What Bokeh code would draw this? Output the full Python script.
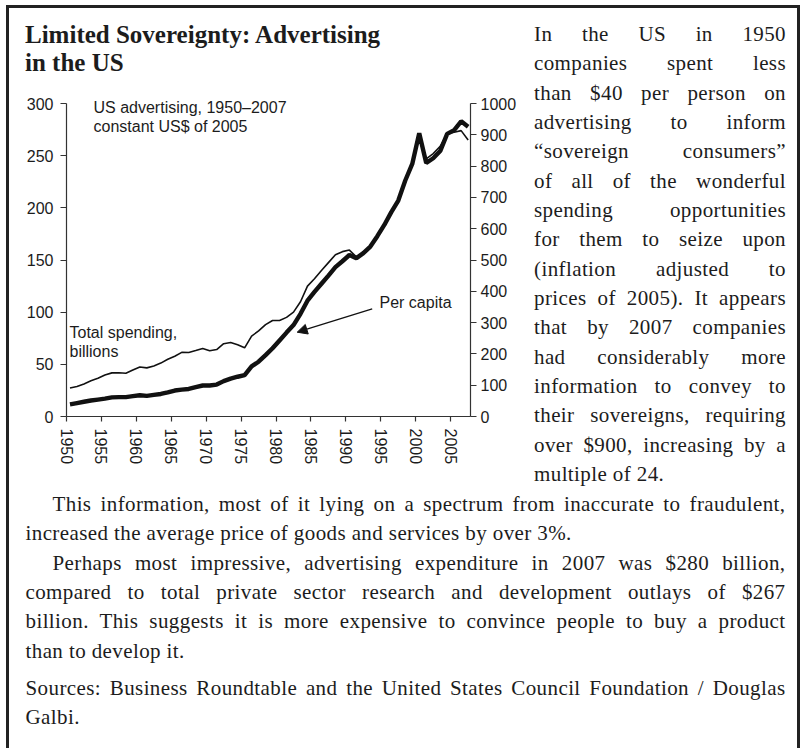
import math
from bokeh.plotting import figure
from bokeh.models import (LinearAxis, Range1d, FixedTicker, Label, Arrow,
                          NormalHead, Div, ColumnDataSource)
from bokeh.layouts import row, column
from bokeh.embed import file_html
from bokeh.resources import INLINE

# ---------------- data ----------------
years = list(range(1950, 2008))
total_billions = [27.3, 28.7, 31.2, 34.2, 36.6, 39.8, 41.8, 41.9, 41.4, 44.5,
                  47.5, 46.6, 48.4, 51.2, 54.8, 57.8, 61.5, 61.4, 63.2, 65.2,
                  63.0, 64.2, 69.8, 71.0, 68.8, 65.8, 77.0, 82.0, 88.0, 92.0,
                  92.0, 95.0, 100.0, 110.0, 125.0, 132.0, 140.0, 147.5, 155.0, 158.0,
                  159.5, 153.0, 157.0, 163.0, 172.5, 183.0, 195.0, 207.0, 226.0, 243.0,
                  270.0, 247.0, 252.0, 259.0, 271.0, 272.5, 274.0, 265.0]
per_capita = [39, 43, 47, 51, 54, 57, 61, 62, 62, 65,
              68, 66, 69, 72, 77, 83, 86, 88, 94, 99,
              99, 102, 113, 121, 127, 132, 160, 175, 196, 218,
              243, 268, 292, 328, 370, 398, 424, 450, 477, 496,
              516, 506, 522, 543, 576, 612, 653, 690, 754, 807,
              905, 810, 825, 848, 903, 915, 943, 926]
x_ticks = [1950, 1955, 1960, 1965, 1970, 1975, 1980, 1985, 1990, 1995, 2000, 2005]
left_ticks = [0, 50, 100, 150, 200, 250, 300]
right_ticks = [0, 100, 200, 300, 400, 500, 600, 700, 800, 900, 1000]

title_lines = ["Limited Sovereignty: Advertising", "in the US"]
note_lines = ["US advertising, 1950\u20132007", "constant US$ of 2005"]
total_label = ["Total spending,", "billions"]
pc_label = "Per capita"

right_lines = ["In the US in 1950", "companies spent less", "than $40 per person on",
               "advertising to inform", "\u201csovereign consumers\u201d",
               "of all of the wonderful", "spending opportunities",
               "for them to seize upon", "(inflation adjusted to",
               "prices of 2005). It appears", "that by 2007 companies",
               "had considerably more", "information to convey to",
               "their sovereigns, requiring", "over $900, increasing by a",
               "multiple of 24."]
para1 = ["This information, most of it lying on a spectrum from inaccurate to fraudulent,",
         "increased the average price of goods and services by over 3%."]
para2 = ["Perhaps most impressive, advertising expenditure in 2007 was $280 billion,",
         "compared to total private sector research and development outlays of $267",
         "billion. This suggests it is more expensive to convince people to buy a product",
         "than to develop it."]
para3 = ["Sources: Business Roundtable and the United States Council Foundation / Douglas",
         "Galbi."]

INK = "#1c1c1c"
SANS = "Liberation Sans"
SERIF = "Liberation Serif"

# ---------------- geometry (page px) ----------------
OX, OY = 9, 8              # content origin inside the bordered box
CONTENT_W = 788
TITLE_H = 70
FIG_W, FIG_H = 522, 400
RIGHT_W, RIGHT_H = 264, 482
BOTTOM_H = 258
FR_L, FR_R, FR_B = 66, 470, 416   # frame left/right/bottom on the page
Y300 = 103                        # page y of the 300 / 1000 ticks
FR_T = 90                         # frame top (a little above 300 so notes are not clipped)
fig_top = OY + TITLE_H

X0, X1 = 1950, 2007.84
YMAX = 300.0 * (FR_B - FR_T) / (FR_B - Y300)

p = figure(width=FIG_W, height=FIG_H, x_range=Range1d(X0, X1), y_range=Range1d(0, YMAX),
           output_backend="svg", toolbar_location=None, margin=0,
           min_border_left=FR_L - OX, min_border_right=OX + FIG_W - FR_R,
           min_border_top=FR_T - fig_top, min_border_bottom=fig_top + FIG_H - FR_B,
           outline_line_color=None, background_fill_color="white", border_fill_color="white")
p.grid.visible = False
p.extra_y_ranges = {"pc": Range1d(0, YMAX * 1000.0 / 300.0)}

def style_axis(ax, tick_out, standoff):
    ax.axis_line_color = "#333333"
    ax.axis_line_width = 1.2
    ax.major_tick_line_color = "#333333"
    ax.major_tick_line_width = 1.2
    ax.major_tick_out = tick_out
    ax.major_tick_in = 0
    ax.minor_tick_line_color = None
    ax.major_label_standoff = standoff
    ax.major_label_text_font = SANS
    ax.major_label_text_font_size = "16px"
    ax.major_label_text_color = INK

xa = p.xaxis[0]
xa.ticker = FixedTicker(ticks=x_ticks)
xa.major_label_orientation = -math.pi / 2
style_axis(xa, 5, 7)

ya = p.yaxis[0]
ya.ticker = FixedTicker(ticks=left_ticks)
ya.bounds = (0, 300)
style_axis(ya, 6, 7)

ra = LinearAxis(y_range_name="pc", ticker=FixedTicker(ticks=right_ticks), bounds=(0, 1000))
style_axis(ra, 6, 4)
p.add_layout(ra, "right")

src = ColumnDataSource(dict(x=[y + 0.5 for y in years], total=total_billions, pc=per_capita))
p.line("x", "total", source=src, line_color="#111111", line_width=1.6)
p.line("x", "pc", source=src, line_color="#111111", line_width=4.4, y_range_name="pc")

# pixel -> data helpers for annotation placement
def dx(px):
    return X0 + (px - FR_L) * (X1 - X0) / (FR_R - FR_L)

def dy(py):
    return (FR_B - py) * 300.0 / (FR_B - Y300)

def add_text(txt, px, py, size="16px"):
    p.add_layout(Label(x=dx(px), y=dy(py), text=txt, text_font=SANS, text_font_size=size,
                       text_color=INK, text_baseline="middle", text_align="left"))

add_text(note_lines[0], 93, 107)
add_text(note_lines[1], 93, 126)
add_text(total_label[0], 69, 332)
add_text(total_label[1], 69, 351)
add_text(pc_label, 379, 302)

p.add_layout(Arrow(end=NormalHead(size=10, fill_color="#111111", line_color="#111111"),
                   x_start=dx(371.7), y_start=dy(308.3), x_end=dx(296.7), y_end=dy(331.7),
                   line_color="#111111", line_width=1.3))

# ---------------- text blocks ----------------
LH = "29.35px"
BODY = (f"font-family:'{SERIF}',serif;font-size:21px;letter-spacing:0.4px;"
        f"line-height:{LH};color:{INK};")

def esc(t):
    return t.replace("&", "&amp;").replace("<", "&lt;")

def line_div(t, justify, extra=""):
    if justify:
        return f'<div style="text-align:justify;text-align-last:justify;{extra}">{esc(t)}</div>'
    return f'<div style="text-align:left;{extra}">{esc(t)}</div>'

title_html = (f'<div style="font-family:\'{SERIF}\',serif;font-size:25px;font-weight:bold;'
              f'line-height:28px;color:{INK};padding:13px 0 0 16px;">'
              + "<br>".join(esc(t) for t in title_lines) + '</div>')

right_html = (f'<div style="{BODY}padding:12px 0 0 3px;width:252px;">'
              + "".join(line_div(t, i < len(right_lines) - 1) for i, t in enumerate(right_lines))
              + '</div>')

def para_html(lines, indent, top=0):
    out = []
    for i, t in enumerate(lines):
        extra = f"padding-left:{indent}px;" if (i == 0 and indent) else ""
        out.append(line_div(t, i < len(lines) - 1, extra))
    return f'<div style="margin-top:{top}px;">' + "".join(out) + '</div>'

bottom_html = (f'<div style="{BODY}padding:0 0 0 16.5px;width:760px;">'
               + para_html(para1, 27) + para_html(para2, 27) + para_html(para3, 0, 8)
               + '</div>')

title_div = Div(text=title_html, width=FIG_W, height=TITLE_H, margin=0, disable_math=True)
right_div = Div(text=right_html, width=RIGHT_W, height=RIGHT_H, margin=0, disable_math=True)
bottom_div = Div(text=bottom_html, width=CONTENT_W, height=BOTTOM_H, margin=0, disable_math=True)

left_col = column(title_div, p, width=FIG_W, height=TITLE_H + FIG_H, margin=0)
top_row = row(left_col, right_div, width=FIG_W + RIGHT_W, height=RIGHT_H, margin=0)
layout = column(top_row, bottom_div, width=CONTENT_W, height=RIGHT_H + BOTTOM_H,
                sizing_mode="fixed", margin=0,
                styles={"border-style": "solid solid none solid", "border-width": "3px",
                        "border-color": "#222222", "box-sizing": "content-box",
                        "margin": "5px 0px 0px 6px"})

open("out.html", "w").write(file_html(layout, INLINE))
